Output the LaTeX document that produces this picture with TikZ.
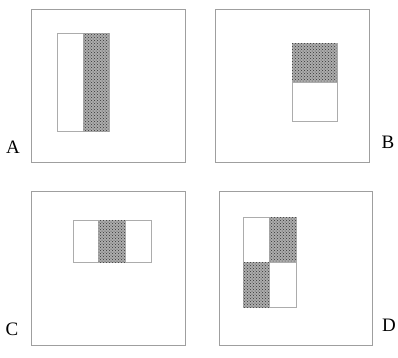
\documentclass[tikz,border=0pt]{standalone}
\usepackage{fontspec}
\setmainfont{Liberation Serif}
\usetikzlibrary{patterns}

\tikzset{
  panel/.style={draw=gray!75, line width=0.8pt},
  blank/.style={draw=gray!65, fill=white, line width=0.8pt},
  shaded/.style={draw=gray!65, line width=0.8pt, fill=gray!65,
    postaction={pattern=crosshatch dots, pattern color=black!80}},
  letter/.style={font=\fontsize{19}{22}\selectfont}
}

\begin{document}
\begin{tikzpicture}[x=1pt,y=-1pt]
\useasboundingbox (0,0) rectangle (398,357);

% panel A
\draw[panel] (31,9) rectangle (185,162);
\draw[blank] (57,33) rectangle (83,131);
\draw[shaded] (83,33) rectangle (109,131);
\node[letter] (labelA) at (13,147) {A};

% panel B
\draw[panel] (215,9) rectangle (369,162);
\draw[shaded] (292,43) rectangle (337,82);
\draw[blank] (292,82) rectangle (337,121);
\node[letter] (labelB) at (388,142) {B};

% panel C
\draw[panel] (31,191) rectangle (185,345);
\draw[blank] (73,220) rectangle (98,262);
\draw[shaded] (98,220) rectangle (125,262);
\draw[blank] (125,220) rectangle (151,262);
\node[letter] (labelC) at (12,329) {C};

% panel D
\draw[panel] (219,191) rectangle (372,345);
\draw[blank] (243,217) rectangle (269,262);
\draw[shaded] (269,217) rectangle (296,262);
\draw[shaded] (243,262) rectangle (269,307);
\draw[blank] (269,262) rectangle (296,307);
\node[letter] (labelD) at (389,325) {D};
\end{tikzpicture}
\end{document}
